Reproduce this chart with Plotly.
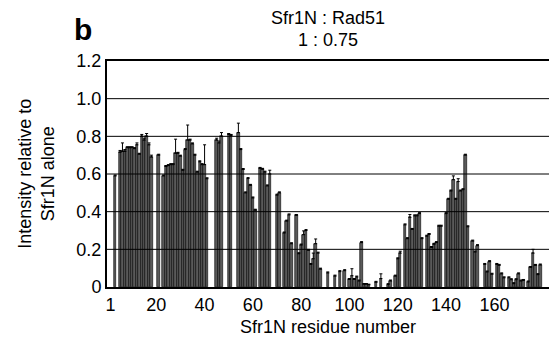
import plotly.graph_objects as go

residue = list(range(1, 181))

intensity = [
    None, None, 0.59, None, 0.715, 0.72, 0.72, 0.74, 0.74, 0.74,
    0.735, 0.755, 0.705, 0.80, 0.78, 0.80, 0.755, 0.69, None, None,
    0.70, None, 0.59, 0.64, 0.645, 0.65, 0.65, 0.71, 0.71, 0.695,
    0.62, 0.73, 0.78, 0.78, 0.76, 0.70, 0.61, 0.665, 0.65, 0.65,
    0.575, None, None, None, 0.78, 0.765, 0.80, None, None, 0.81,
    0.805, None, None, 0.82, 0.73, 0.624, 0.50, 0.576, 0.54, 0.473,
    0.408, None, 0.63, 0.625, 0.61, 0.537, 0.60, None, None, 0.488,
    0.50, None, 0.287, 0.35, 0.383, 0.23, None, 0.38, 0.177, 0.223,
    0.278, 0.30, 0.195, 0.12, 0.15, 0.23, 0.18, 0.095, None, None,
    0.075, None, None, 0.058, None, 0.082, None, 0.087, None, 0.04,
    0.06, 0.04, 0.053, 0.032, 0.236, 0.015, 0.015, 0.012, None, None,
    0.025, None, 0.045, None, None, 0.013, 0.032, None, 0.058, 0.15,
    0.18, None, 0.33, 0.257, 0.37, 0.306, 0.378, 0.378, 0.39, 0.257,
    None, 0.27, 0.279, 0.21, 0.227, 0.236, 0.323, 0.323, None, 0.39,
    0.466, 0.51, 0.57, 0.466, 0.56, 0.51, 0.517, 0.70, 0.32, None,
    0.244, 0.186, 0.22, None, None, 0.12, 0.08, 0.135, 0.068, None,
    0.12, 0.115, 0.07, 0.049, None, 0.049, 0.039, 0.018, 0.039, 0.07,
    0.032, 0.035, None, 0.027, 0.104, 0.18, 0.115, 0.066, 0.117, None,
]

error_plus = [
    0, 0, 0.005, 0, 0.01, 0.045, 0.01, 0.005, 0.005, 0.005,
    0.005, 0.01, 0.005, 0.01, 0.01, 0.015, 0.01, 0.01, 0, 0,
    0.005, 0, 0.005, 0.005, 0.005, 0.005, 0.005, 0.075, 0.005, 0.005,
    0.005, 0.005, 0.08, 0.005, 0.005, 0.005, 0.005, 0.005, 0.005, 0.105,
    0.005, 0, 0, 0, 0.01, 0.01, 0.02, 0, 0, 0.005,
    0.005, 0, 0, 0.05, 0.005, 0.005, 0.005, 0.005, 0.005, 0.005,
    0.005, 0, 0.005, 0.005, 0.005, 0.005, 0.02, 0, 0, 0.005,
    0.005, 0, 0.005, 0.005, 0.005, 0.005, 0, 0.005, 0.005, 0.005,
    0.02, 0.005, 0.005, 0.005, 0.03, 0.025, 0.005, 0.005, 0, 0,
    0.005, 0, 0, 0.005, 0, 0.005, 0, 0.005, 0, 0.005,
    0.037, 0.005, 0.005, 0.005, 0.005, 0.003, 0.003, 0.003, 0, 0,
    0.005, 0, 0.025, 0, 0, 0.005, 0.005, 0, 0.005, 0.005,
    0.01, 0, 0.005, 0.005, 0.015, 0.005, 0.005, 0.005, 0.005, 0.005,
    0, 0.005, 0.005, 0.005, 0.005, 0.005, 0.005, 0.005, 0, 0.005,
    0.005, 0.005, 0.02, 0.005, 0.015, 0.005, 0.005, 0.005, 0.005, 0,
    0.005, 0.005, 0.005, 0, 0, 0.005, 0.005, 0.005, 0.005, 0,
    0.005, 0.005, 0.005, 0.005, 0, 0.005, 0.005, 0.005, 0.005, 0.005,
    0.005, 0.005, 0, 0.005, 0.005, 0.02, 0.005, 0.005, 0.005, 0,
]

x_tick_vals = [1, 20, 40, 60, 80, 100, 120, 140, 160]
y_tick_vals = [0, 0.2, 0.4, 0.6, 0.8, 1.0, 1.2]
y_tick_text = ["0", "0.2", "0.4", "0.6", "0.8", "1.0", "1.2"]

FONT = "Liberation Sans, Arial, sans-serif"

fig = go.Figure()
fig.add_trace(go.Bar(
    x=residue,
    y=intensity,
    marker=dict(color="#5a5a5a", line=dict(color="black", width=0.6)),
    error_y=dict(type="data", array=error_plus, arrayminus=[0] * len(error_plus),
                 symmetric=False, color="black", thickness=1, width=1.5),
    hoverinfo="x+y",
))

# horizontal gridlines drawn above the bars, as in the reference
for v in y_tick_vals[1:-1]:
    fig.add_shape(type="line", xref="paper", x0=0, x1=1, yref="y", y0=v, y1=v,
                  line=dict(color="black", width=1), layer="above")

fig.update_layout(
    width=550, height=344,
    margin=dict(l=107, r=1, t=61, b=57),
    paper_bgcolor="white", plot_bgcolor="white",
    bargap=0.0,
    showlegend=False,
    font=dict(family=FONT, size=18, color="black"),
)

fig.update_xaxes(
    range=[-0.4, 182.6],
    tickvals=x_tick_vals,
    ticktext=[str(v) for v in x_tick_vals],
    showline=True, linecolor="black", linewidth=2, mirror=True,
    showgrid=False, zeroline=False, ticks="",
    tickfont=dict(family=FONT, size=18),
    layer="above traces",
)
fig.update_yaxes(
    range=[0, 1.2],
    tickvals=y_tick_vals,
    ticktext=y_tick_text,
    showline=True, linecolor="black", linewidth=2,
    showgrid=False,
    zeroline=False, ticks="",
    tickfont=dict(family=FONT, size=18),
    layer="above traces",
)

fig.add_annotation(text="Sfr1N : Rad51", xref="paper", yref="paper",
                   x=0.5, y=1.19, showarrow=False, xanchor="center", yanchor="middle",
                   font=dict(family=FONT, size=18))
fig.add_annotation(text="1 : 0.75", xref="paper", yref="paper",
                   x=0.5, y=1.093, showarrow=False, xanchor="center", yanchor="middle",
                   font=dict(family=FONT, size=18))
fig.add_annotation(text="<b>b</b>", xref="paper", yref="paper",
                   x=-0.055, y=1.14, showarrow=False, xanchor="center", yanchor="middle",
                   font=dict(family=FONT, size=30))
fig.add_annotation(text="Intensity relative to<br>Sfr1N alone", xref="paper", yref="paper",
                   x=-0.161, y=0.5, showarrow=False, xanchor="center", yanchor="middle",
                   textangle=-90, font=dict(family=FONT, size=18))
fig.add_annotation(text="Sfr1N residue number", xref="paper", yref="paper",
                   x=0.5, y=-0.177, showarrow=False, xanchor="center", yanchor="middle",
                   font=dict(family=FONT, size=18))

fig.write_html("out.html")
